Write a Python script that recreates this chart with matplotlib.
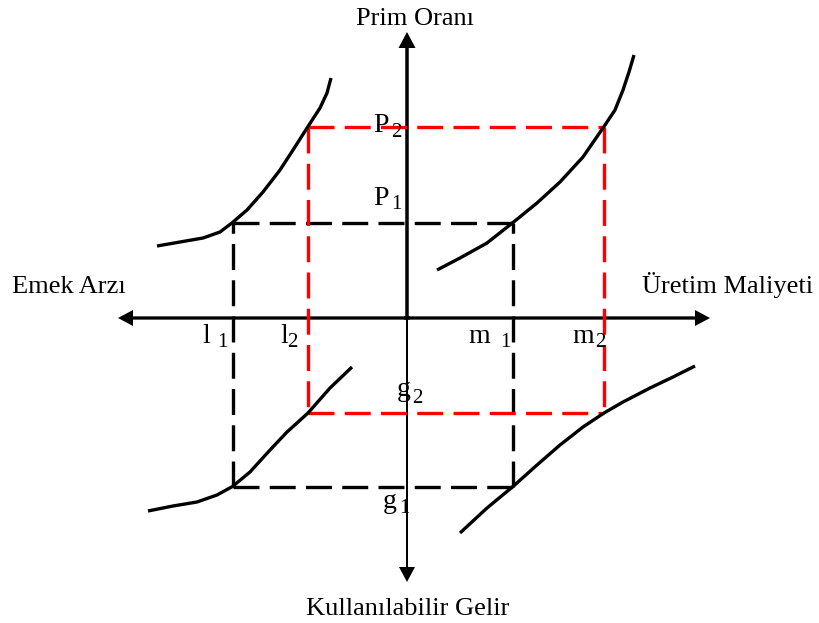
import matplotlib
matplotlib.use("Agg")
import matplotlib.pyplot as plt

# diagram units: 1 unit = 1 pixel, origin where the two axes cross
l1, l2 = -174.5, -99
m1, m2 = 106, 197
p1, p2 = 95.5, 191.5
g1, g2 = -168.5, -95

# curves (x, y)
ul_x = [-250, -227, -204, -187, -174.5, -160, -144, -127, -114, -99, -87, -80, -76]
ul_y = [72, 76, 80, 86, 95.5, 108, 126, 148, 168, 191.5, 210, 225, 240]
ur_x = [30, 53, 80, 106, 130, 153, 176, 197, 208, 216, 222, 227]
ur_y = [48, 60, 75, 95.5, 115, 136, 161, 191.5, 208, 228, 246, 263]
ll_x = [-259, -234, -210, -190, -174.5, -157, -137, -120, -99, -77, -55]
ll_y = [-193, -188, -184, -177, -168.5, -154, -132, -114, -95, -70, -49]
lr_x = [53, 80, 106, 130, 153, 176, 197, 216, 243, 266, 288]
lr_y = [-215, -190, -168.5, -147, -127, -109, -95, -84, -70, -59, -48]

plt.rcParams['font.family'] = ['Liberation Serif', 'DejaVu Serif']
plt.rcParams['lines.scale_dashes'] = False

fig = plt.figure(figsize=(8.19, 6.23), dpi=100)
ax = fig.add_axes([0, 0, 1, 1])
ax.set_xlim(-407, 412)
ax.set_ylim(-305, 318)
ax.axis('off')

# axes with arrow heads
ax.arrow(-3, 0, 306, 0, width=3.3, head_width=16, head_length=15,
         length_includes_head=True, color='k', lw=0)
ax.arrow(3, 0, -292, 0, width=3.3, head_width=16, head_length=15,
         length_includes_head=True, color='k', lw=0)
ax.arrow(0, -1, 0, 287, width=3.5, head_width=17, head_length=16,
         length_includes_head=True, color='k', lw=0)
ax.arrow(0, 1, 0, -265, width=2.0, head_width=16, head_length=15,
         length_includes_head=True, color='k', lw=0)

dash = (0, (18.7, 7.4))
lw = 2.4
# black rectangle (first equilibrium)
ax.plot([l1, m1], [p1, p1], color='k', lw=lw, ls=dash)
ax.plot([l1, m1], [g1, g1], color='k', lw=lw, ls=dash)
ax.plot([l1, l1], [g1, p1], color='k', lw=lw, ls=dash)
ax.plot([m1, m1], [g1, p1], color='k', lw=lw, ls=dash)
# red rectangle (second equilibrium)
ax.plot([l2, m2], [p2, p2], color='red', lw=lw, ls=dash)
ax.plot([l2, m2], [g2, g2], color='red', lw=lw, ls=dash)
ax.plot([l2, l2], [p2, g2], color='red', lw=lw, ls=dash)
ax.plot([m2, m2], [p2, g2], color='red', lw=lw, ls=dash)

for cx, cy in [(ul_x, ul_y), (ur_x, ur_y), (ll_x, ll_y), (lr_x, lr_y)]:
    ax.plot(cx, cy, color='k', lw=2.4, solid_capstyle='butt',
            solid_joinstyle='round', antialiased=True, zorder=3)

big = 19
sub = 15
ax.text(8.5, 293, 'Prim Oranı', fontsize=big, ha='center', va='baseline')
ax.text(0.5, -297, 'Kullanılabilir Gelir', fontsize=big, ha='center', va='baseline')
ax.text(-395, 25, 'Emek Arzı', fontsize=big, ha='left', va='baseline')
ax.text(235, 25, 'Üretim Maliyeti', fontsize=big, ha='left', va='baseline')

# letter + subscript labels
labels = [
    ('P', -34, 186, '2', -16, 181),
    ('P', -34, 113, '1', -16, 109),
    ('l', -205, -25, '1', -190, -29),
    ('l', -127, -25, '2', -120, -29),
    ('m', 61, -25, '1', 93, -29),
    ('m', 165, -25, '2', 188, -29),
    ('g', -10, -78, '2', 5, -85),
    ('g', -24, -190, '1', -8, -195),
]
for main, mx, my, s, sx, sy in labels:
    ax.text(mx, my, main, fontsize=20, ha='left', va='baseline')
    ax.text(sx, sy, s, fontsize=sub, ha='left', va='baseline')

fig.savefig('out.png', dpi=100)
